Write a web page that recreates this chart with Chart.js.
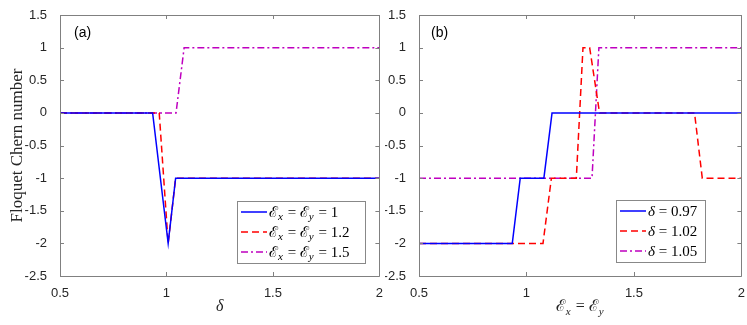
<!DOCTYPE html>
<html>
<head>
<meta charset="utf-8">
<script src="https://cdn.jsdelivr.net/npm/chart.js@4/dist/chart.umd.min.js"></script>
<style>
body { margin: 0; background: #fff; width: 747px; height: 325px; overflow: hidden; position: relative; }
canvas { position: absolute; top: 0; }
#chartA { left: 0; }
#chartB { left: 385px; }
</style>
</head>
<body>
<canvas id="chartA" width="385" height="325"></canvas>
<canvas id="chartB" width="362" height="325"></canvas>
<script>
// axis ticks (both panels share them)
const xTickValues = [0.5, 1, 1.5, 2];
const xTickLabels = ['0.5', '1', '1.5', '2'];
const yTickValues = [-2.5, -2, -1.5, -1, -0.5, 0, 0.5, 1, 1.5];
const yTickLabels = ['-2.5', '-2', '-1.5', '-1', '-0.5', '0', '0.5', '1', '1.5'];

// panel (a): Chern number vs delta
const aBlueX = [0.5, 0.935, 1.008, 1.043, 2];
const aBlueY = [0, 0, -2, -1, -1];
const aRedX = [0.5, 0.966, 1.008, 1.043, 2];
const aRedY = [0, 0, -2, -1, -1];
const aMagX = [0.5, 1.045, 1.083, 2];
const aMagY = [0, 0, 1, 1];

// panel (b): Chern number vs E_x = E_y
const bBlueX = [0.5, 0.934, 0.971, 1.081, 1.119, 2];
const bBlueY = [-2, -2, -1, -1, 0, 0];
const bRedX = [0.5, 1.077, 1.116, 1.232, 1.263, 1.294, 1.34, 1.782, 1.818, 2];
const bRedY = [-2, -2, -1, -1, 1, 1, 0, 0, -1, -1];
const bMagX = [0.5, 1.305, 1.337, 2];
const bMagY = [-1, -1, 1, 1];

const BLUE = '#0000ff', RED = '#ff0000', MAG = '#bf00bf';
const DASH = [7, 4], DASHDOT = [7, 3, 2, 3];
const SERIF = '"Liberation Serif", "DejaVu Serif", serif';
const SANS = '"Liberation Sans", Arial, sans-serif';

function pts(xs, ys) {
    return xs.map((x, i) => ({ x: x, y: ys[i] }));
}

function series(xs, ys, color, dash) {
    return {
        data: pts(xs, ys),
        borderColor: color,
        borderWidth: 1.5,
        borderDash: dash || [],
        pointRadius: 0,
        fill: false,
        tension: 0
    };
}

// draw "math" text: strings are normal, arrays are subscripts
function mathWidth(ctx, parts, size) {
    let w = 0;
    parts.forEach(p => {
        if (Array.isArray(p)) {
            ctx.font = 'italic ' + Math.round(size * 0.7) + 'px ' + SERIF;
            w += ctx.measureText(p[0]).width + 1;
        } else {
            ctx.font = (p === 'δ' ? 'italic ' : '') + size + 'px ' + SERIF;
            w += ctx.measureText(p).width;
        }
    });
    return w;
}

function drawMath(ctx, parts, x, y, size) {
    ctx.textAlign = 'left';
    ctx.textBaseline = 'alphabetic';
    parts.forEach(p => {
        if (Array.isArray(p)) {
            ctx.font = 'italic ' + Math.round(size * 0.7) + 'px ' + SERIF;
            ctx.fillText(p[0], x, y + size * 0.22);
            x += ctx.measureText(p[0]).width + 1;
        } else {
            ctx.font = (p === 'δ' ? 'italic ' : '') + size + 'px ' + SERIF;
            ctx.fillText(p, x, y);
            x += ctx.measureText(p).width;
        }
    });
}

const framePlugin = {
    id: 'frame',
    afterDraw(chart, args, opts) {
        const ctx = chart.ctx;
        const a = chart.chartArea;
        const xs = chart.scales.x, ys = chart.scales.y;
        ctx.save();
        ctx.strokeStyle = '#808080';
        ctx.lineWidth = 1;
        ctx.beginPath();
        ctx.rect(Math.round(a.left) + 0.5, Math.round(a.top) + 0.5,
                 Math.round(a.right - a.left), Math.round(a.bottom - a.top));
        // inward ticks on all four sides
        const tl = 4;
        xTickValues.forEach(v => {
            const px = Math.round(xs.getPixelForValue(v)) + 0.5;
            ctx.moveTo(px, a.bottom); ctx.lineTo(px, a.bottom - tl);
            ctx.moveTo(px, a.top); ctx.lineTo(px, a.top + tl);
        });
        yTickValues.forEach(v => {
            const py = Math.round(ys.getPixelForValue(v)) + 0.5;
            ctx.moveTo(a.left, py); ctx.lineTo(a.left + tl, py);
            ctx.moveTo(a.right, py); ctx.lineTo(a.right - tl, py);
        });
        ctx.stroke();

        // panel tag
        ctx.fillStyle = '#000';
        ctx.font = '14px ' + SANS;
        ctx.textAlign = 'left';
        ctx.textBaseline = 'middle';
        ctx.fillText(opts.tag, a.left + opts.tagDx, a.top + 18);

        // x title
        ctx.fillStyle = '#262626';
        const tw = mathWidth(ctx, opts.xTitle, 16);
        drawMath(ctx, opts.xTitle, (a.left + a.right) / 2 - tw / 2, 311, 16);

        // y title
        if (opts.yTitle) {
            ctx.save();
            ctx.translate(22, (a.top + a.bottom) / 2);
            ctx.rotate(-Math.PI / 2);
            ctx.font = '17px ' + SERIF;
            ctx.textAlign = 'center';
            ctx.textBaseline = 'alphabetic';
            ctx.fillText(opts.yTitle, 0, 0);
            ctx.restore();
        }

        // legend
        const L = opts.legend;
        ctx.fillStyle = '#fff';
        ctx.fillRect(L.x, L.y, L.w, L.h);
        ctx.strokeStyle = '#888';
        ctx.strokeRect(L.x + 0.5, L.y + 0.5, L.w, L.h);
        chart.data.datasets.forEach((ds, i) => {
            const ry = L.y + 11 + i * 20;
            ctx.strokeStyle = ds.borderColor;
            ctx.lineWidth = 1.5;
            ctx.setLineDash(ds.borderDash);
            ctx.beginPath();
            ctx.moveTo(L.x + 4, ry);
            ctx.lineTo(L.x + 30, ry);
            ctx.stroke();
            ctx.setLineDash([]);
            ctx.fillStyle = '#000';
            drawMath(ctx, L.labels[i], L.x + 32, ry + 5, 15);
        });
        ctx.restore();
    }
};

function makeChart(id, datasets, yWidth, padRight, panel) {
    return new Chart(document.getElementById(id), {
        type: 'line',
        data: { datasets: datasets },
        options: {
            responsive: false,
            animation: false,
            layout: { padding: { top: 15, right: padRight, left: 0, bottom: 0 } },
            plugins: { legend: { display: false }, tooltip: { enabled: false }, frame: panel },
            scales: {
                x: {
                    type: 'linear', min: 0.5, max: 2,
                    afterBuildTicks: s => { s.ticks = xTickValues.map(v => ({ value: v })); },
                    afterFit: s => { s.height = 49; },
                    grid: { display: false },
                    border: { display: false },
                    ticks: {
                        padding: 2, color: '#262626', font: { family: SANS, size: 13 },
                        maxRotation: 0,
                        callback: v => xTickLabels[xTickValues.indexOf(v)]
                    }
                },
                y: {
                    type: 'linear', min: -2.5, max: 1.5,
                    afterBuildTicks: s => { s.ticks = yTickValues.map(v => ({ value: v })); },
                    afterFit: s => { s.width = yWidth; },
                    grid: { display: false },
                    border: { display: false },
                    ticks: {
                        padding: 5, color: '#262626', font: { family: SANS, size: 13 },
                        callback: v => yTickLabels[yTickValues.indexOf(v)]
                    }
                }
            }
        },
        plugins: [framePlugin]
    });
}

makeChart('chartA', [
    series(aBlueX, aBlueY, BLUE),
    series(aRedX, aRedY, RED, DASH),
    series(aMagX, aMagY, MAG, DASHDOT)
], 60, 5, {
    tag: '(a)', tagDx: 14,
    xTitle: ['δ'],
    yTitle: 'Floquet Chern number',
    legend: {
        x: 237, y: 201, w: 128, h: 62,
        labels: [
            ['ℰ', ['x'], ' = ℰ', ['y'], ' = 1'],
            ['ℰ', ['x'], ' = ℰ', ['y'], ' = 1.2'],
            ['ℰ', ['x'], ' = ℰ', ['y'], ' = 1.5']
        ]
    }
});

makeChart('chartB', [
    series(bBlueX, bBlueY, BLUE),
    series(bRedX, bRedY, RED, DASH),
    series(bMagX, bMagY, MAG, DASHDOT)
], 34, 5, {
    tag: '(b)', tagDx: 12,
    xTitle: ['ℰ', ['x'], ' = ℰ', ['y']],
    yTitle: null,
    legend: {
        x: 231, y: 200, w: 89, h: 62,
        labels: [
            ['δ', ' = 0.97'],
            ['δ', ' = 1.02'],
            ['δ', ' = 1.05']
        ]
    }
});
</script>
</body>
</html>
